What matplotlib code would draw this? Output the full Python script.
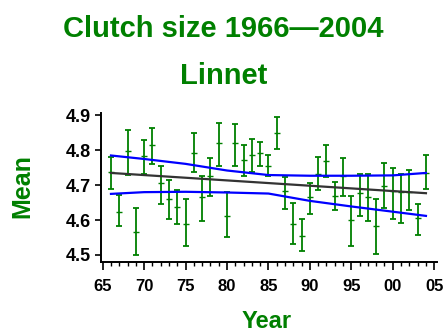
import numpy as np
import matplotlib
matplotlib.use('Agg')
import matplotlib.pyplot as plt
from matplotlib.ticker import MultipleLocator

# Jahreswerte Linnet, Gelegegröße
years = np.arange(1966, 2005)
mean = np.array([4.739, 4.624, 4.797, 4.567, 4.784, 4.816, 4.706, 4.660, 4.637, 4.589,
                 4.792, 4.666, 4.727, 4.821, 4.613, 4.821, 4.773, 4.787, 4.792, 4.756,
                 4.849, 4.682, 4.589, 4.555, 4.667, 4.733, 4.768, 4.669, 4.727, 4.600,
                 4.677, 4.666, 4.583, 4.698, 4.682, 4.679, 4.680, 4.605, 4.735])
lo = np.array([4.689, 4.583, 4.730, 4.500, 4.733, 4.761, 4.646, 4.603, 4.589, 4.527,
               4.739, 4.596, 4.669, 4.756, 4.551, 4.756, 4.727, 4.739, 4.756, 4.725,
               4.803, 4.631, 4.532, 4.510, 4.618, 4.685, 4.723, 4.629, 4.670, 4.527,
               4.612, 4.596, 4.503, 4.634, 4.602, 4.591, 4.629, 4.557, 4.689])
hi = np.array([4.782, 4.672, 4.859, 4.636, 4.830, 4.865, 4.756, 4.715, 4.687, 4.660,
               4.849, 4.727, 4.779, 4.878, 4.679, 4.876, 4.816, 4.832, 4.825, 4.785,
               4.895, 4.723, 4.648, 4.602, 4.706, 4.780, 4.816, 4.710, 4.779, 4.669,
               4.733, 4.733, 4.660, 4.763, 4.749, 4.733, 4.744, 4.646, 4.785])

# Trend und Konfidenzband
trend_years = [1966, 2004]
trend = [4.735, 4.677]
band_years = [1966, 1970, 1975, 1980, 1985, 1990, 1995, 2000, 2004]
band_up = [4.785, 4.775, 4.761, 4.742, 4.729, 4.727, 4.727, 4.728, 4.735]
band_low = [4.675, 4.680, 4.681, 4.679, 4.676, 4.655, 4.639, 4.624, 4.612]

green = '#008000'
plt.rcParams['font.family'] = ['Liberation Sans', 'DejaVu Sans']
plt.rcParams['font.weight'] = 'bold'

fig = plt.figure(figsize=(4.47, 3.35), dpi=100)
ax = fig.add_axes([0.226, 0.218, 0.751, 0.445])

ax.plot(band_years, band_up, color='#0000ff', lw=1.6, zorder=3)
ax.plot(band_years, band_low, color='#0000ff', lw=1.6, zorder=3)
ax.plot(trend_years, trend, color='#333333', lw=1.6, zorder=3)
ax.errorbar(years, mean, yerr=[mean - lo, hi - mean], fmt='_', color=green,
            ecolor=green, elinewidth=1.3, capsize=2.5, capthick=1.3, markersize=5, zorder=2)

ax.set_xlim(1964.8, 2005.3)
ax.set_ylim(4.48, 4.907)
ax.set_xticks(np.arange(1965, 2006, 5))
ax.set_xticklabels(['%02d' % (y % 100) for y in range(1965, 2006, 5)])
ax.xaxis.set_minor_locator(MultipleLocator(1))
ax.set_yticks([4.5, 4.6, 4.7, 4.8, 4.9])
ax.set_yticklabels(['4.5', '4.6', '4.7', '4.8', '4.9'])
ax.tick_params(axis='x', which='major', length=6, width=1.2, labelsize=12, pad=6)
ax.tick_params(axis='x', which='minor', length=3, width=1.0)
ax.tick_params(axis='y', length=4, width=1.2, labelsize=13, pad=3)
for s in ['top', 'right']:
    ax.spines[s].set_visible(False)
for s in ['left', 'bottom']:
    ax.spines[s].set_linewidth(1.4)

fig.text(0.5, 0.913, 'Clutch size 1966\u20142004', color=green, fontsize=21,
         fontweight='bold', ha='center', va='center')
fig.text(0.5, 0.772, 'Linnet', color=green, fontsize=21, fontweight='bold',
         ha='center', va='center')
fig.text(0.05, 0.445, 'Mean', color=green, fontsize=18, fontweight='bold',
         ha='center', va='center', rotation=90)
fig.text(0.597, 0.04, 'Year', color=green, fontsize=17, fontweight='bold',
         ha='center', va='center')

plt.savefig('out.png', dpi=100)
